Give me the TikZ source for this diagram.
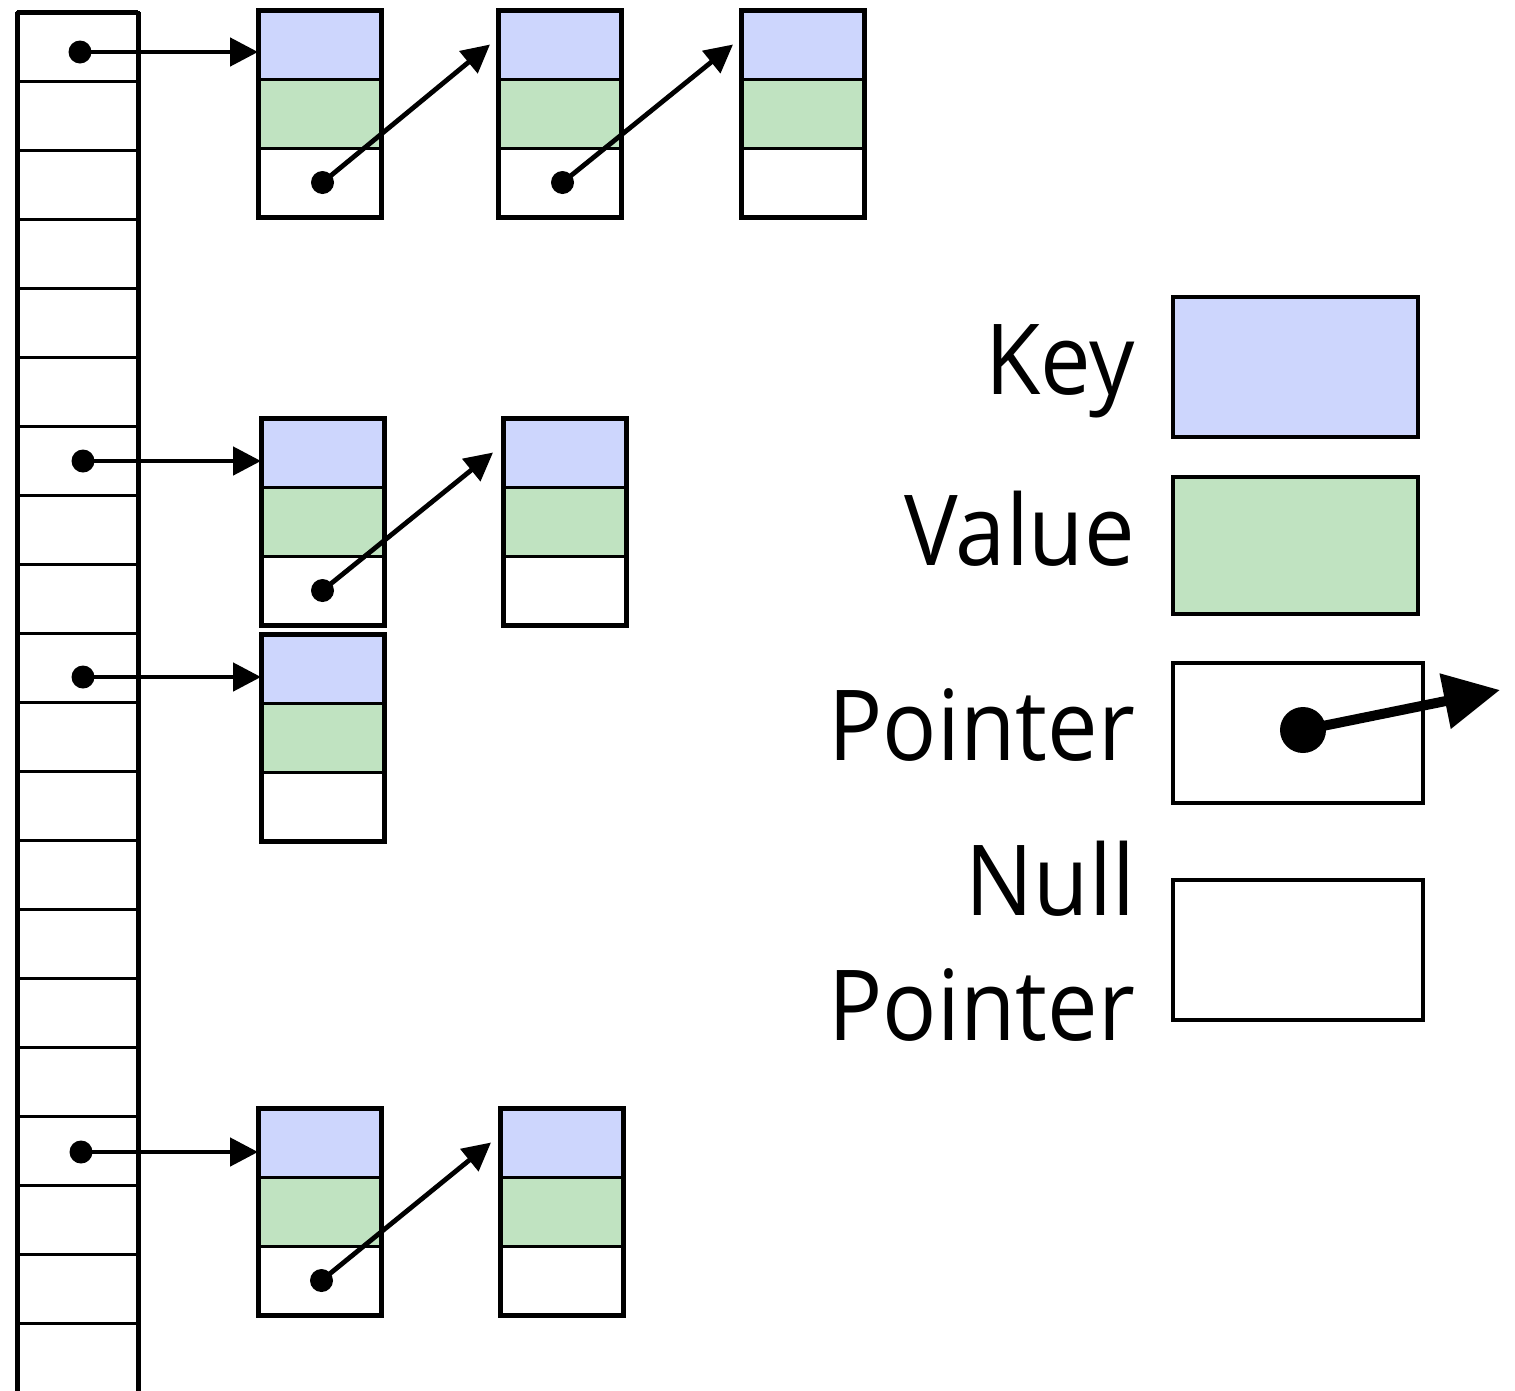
\documentclass[tikz,border=0pt]{standalone}
\usepackage{fontspec}
\setmainfont[FakeStretch=0.92]{Open Sans}
\usetikzlibrary{arrows.meta}
\definecolor{keyblue}{RGB}{205,214,253}
\definecolor{valgreen}{RGB}{192,227,193}
\tikzset{
  cellbase/.style={draw=black, line width=3pt, minimum width=123pt, minimum height=69pt, inner sep=0pt, outer sep=0pt},
  kcell/.style={cellbase, fill=keyblue},
  vcell/.style={cellbase, fill=valgreen},
  pcell/.style={cellbase, fill=white},
  rowcell/.style={draw=black, line width=3pt, minimum width=121pt, minimum height=69pt, inner sep=0pt, outer sep=0pt},
  outerbox/.style={draw=black, line width=5pt},
  dotnode/.style={circle, fill=black, minimum size=23pt, inner sep=0pt},
  bigdot/.style={circle, fill=black, minimum size=46pt, inner sep=0pt},
  arr/.style={line width=4.8pt, -{Triangle[length=28pt,width=28pt]}},
  bigarr/.style={line width=10pt, -{Triangle[length=56pt,width=54pt]}},
  legend/.style={draw=black, line width=4.5pt, inner sep=0pt, outer sep=0pt},
  lbl/.style={anchor=base east, inner sep=0pt, font=\fontsize{98}{110}\selectfont}
}
\newcommand{\record}[3]{%
  \node[kcell, anchor=north west] (#1k) at (#2,#3) {};
  \node[vcell, anchor=north] (#1v) at (#1k.south) {};
  \node[pcell, anchor=north] (#1p) at (#1v.south) {};
  \draw[outerbox] (#1k.north west) rectangle (#1p.south east);
}
\begin{document}
\begin{tikzpicture}[x=1pt,y=-1pt]
\clip (0,0) rectangle (1515,1390);
\fill[white] (0,0) rectangle (1515,1390);
% table
\foreach \i in {0,...,19} {
  \node[rowcell] (t\i) at (77.5,{46.5+69*\i}) {};
}
\draw[line width=5pt] (t0.north west) -- (t19.south west);
\draw[line width=5pt] (t0.north east) -- (t19.south east);
\draw[line width=5pt] (t0.north west) -- (t0.north east);
% records
\record{A}{258}{10}
\record{B}{498}{10}
\record{C}{741}{10}
\record{D}{261}{418}
\record{E}{503}{418}
\record{F}{261}{634}
\record{G}{258}{1108}
\record{H}{500}{1108}
% bucket pointers
\node[dotnode] (d0) at (80,52) {};
\node[dotnode] (d6) at (83,461) {};
\node[dotnode] (d9) at (83,677) {};
\node[dotnode] (d16) at (81,1152) {};
\draw[arr] (d0.center) -- (d0.center -| Ak.west);
\draw[arr] (d6.center) -- (d6.center -| Dk.west);
\draw[arr] (d9.center) -- (d9.center -| Fk.west);
\draw[arr] (d16.center) -- (d16.center -| Gk.west);
% chain pointers
\node[dotnode] (pa) at ([xshift=3pt]Ap.center) {};
\node[dotnode] (pb) at ([xshift=3pt]Bp.center) {};
\node[dotnode] (pd) at (Dp.center) {};
\node[dotnode] (pg) at ([xshift=2pt]Gp.center) {};
\draw[arr] (pa.center) -- ([xshift=-8pt]Bk.west);
\draw[arr] (pb.center) -- ([xshift=-8pt]Ck.west);
\draw[arr] (pd.center) -- ([xshift=-10pt]Ek.west);
\draw[arr] (pg.center) -- ([xshift=-9pt]Hk.west);
% legend
\node[legend, fill=keyblue, minimum width=245pt, minimum height=140pt, anchor=north west] (lk) at (1173,297) {};
\node[legend, fill=valgreen, minimum width=245pt, minimum height=137pt, anchor=north west] (lv) at (1173,477) {};
\node[legend, fill=white, line width=4pt, minimum width=250pt, minimum height=140pt, anchor=north west] (lp) at (1173,663) {};
\node[legend, fill=white, line width=4pt, minimum width=250pt, minimum height=140pt, anchor=north west] (ln) at (1173,880) {};
\node[bigdot] (ldot) at (1303,730) {};
\coordinate (ltip) at (1500,690);
\draw[bigarr] (ldot.center) -- (ltip);
\node[lbl] (tk) at (1135,394) {Key};
\node[lbl] (tv) at (1135,565) {Value};
\node[lbl] (tp) at (1135,760) {Pointer};
\node[lbl] (tn1) at (1135,915) {Null};
\node[lbl] (tn2) at (1135,1040) {Pointer};
\end{tikzpicture}
\end{document}
